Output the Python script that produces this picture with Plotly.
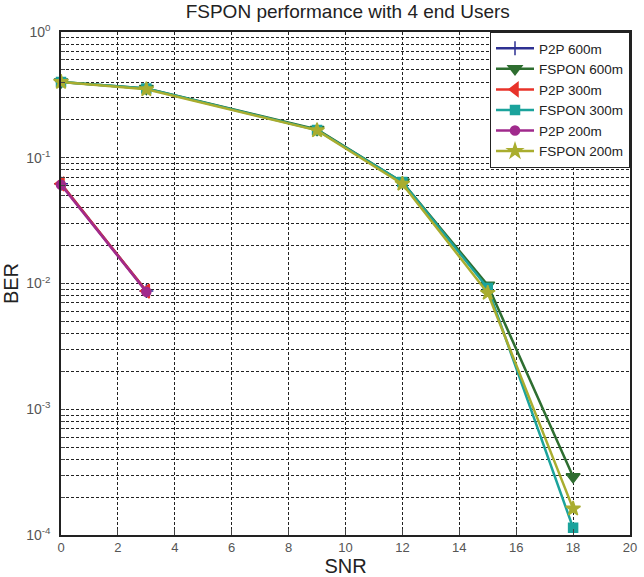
import plotly.graph_objects as go

snr_p2p = [0, 3]
snr_fspon = [0, 3, 9, 12, 15, 18]

ber_p2p_600 = [0.062, 0.0087]
ber_p2p_300 = [0.062, 0.0087]
ber_p2p_200 = [0.061, 0.0086]
ber_fspon_600 = [0.40, 0.355, 0.168, 0.064, 0.0097, 2.9e-4]
ber_fspon_300 = [0.40, 0.355, 0.166, 0.064, 0.0092, 1.14e-4]
ber_fspon_200 = [0.40, 0.35, 0.165, 0.062, 0.0084, 1.62e-4]

x_ticks = [0, 2, 4, 6, 8, 10, 12, 14, 16, 18, 20]
decade_exps = [-4, -3, -2, -1, 0]
minor_mults = [1, 2, 3, 4, 5, 6, 7, 8, 9]

y_tickvals = []
y_ticktext = []
for e in decade_exps:
    for m in minor_mults:
        v = m * 10.0 ** e
        if v > 1.0000001:
            continue
        y_tickvals.append(v)
        y_ticktext.append(f"10<sup>{e}</sup>" if m == 1 else "")

series = [
    ("P2P 600m", snr_p2p, ber_p2p_600, "#2E3192", "cross-thin", 10),
    ("FSPON 600m", snr_fspon, ber_fspon_600, "#2E6E30", "triangle-down", 12),
    ("P2P 300m", snr_p2p, ber_p2p_300, "#E8332A", "triangle-left", 12),
    ("FSPON 300m", snr_fspon, ber_fspon_300, "#1BA39C", "square", 9),
    ("P2P 200m", snr_p2p, ber_p2p_200, "#A02A8C", "circle", 9),
    ("FSPON 200m", snr_fspon, ber_fspon_200, "#A9AD2F", "star", 11),
]

fig = go.Figure()
for name, x, y, color, sym, size in series:
    fig.add_trace(go.Scatter(
        x=x, y=y, name=name, mode="lines+markers", cliponaxis=False,
        line=dict(color=color, width=2.5),
        marker=dict(symbol=sym, size=size, color=color,
                    line=dict(color=color, width=1.5)),
    ))

font = "Arial, Liberation Sans, sans-serif"
grid_dash = "3px,2px"
fig.update_layout(
    width=644, height=577,
    margin=dict(l=61, r=7, t=32, b=42),
    paper_bgcolor="white", plot_bgcolor="white",
    font=dict(family=font, color="#222"),
    title=dict(text="FSPON performance with 4 end Users", x=0.54, xanchor="center",
               y=0.992, yanchor="top", font=dict(size=19, color="#222")),
    xaxis=dict(
        range=[0, 20], tickvals=x_ticks, ticks="inside", ticklen=6,
        showgrid=True, gridcolor="#222", griddash=grid_dash, gridwidth=1,
        showline=True, linecolor="#222", linewidth=1.5, mirror=True,
        tickfont=dict(size=13, color="#555"),
        title=dict(text="SNR", font=dict(size=20, color="#222"), standoff=0),
        zeroline=False,
    ),
    yaxis=dict(
        type="log", range=[-4, 0], tickvals=y_tickvals, ticktext=y_ticktext,
        ticks="inside", ticklen=4, ticklabelstandoff=6,
        showgrid=True, gridcolor="#222", griddash=grid_dash, gridwidth=1,
        showline=True, linecolor="#222", linewidth=1.5, mirror=True,
        tickfont=dict(size=14, color="#555"),
        title=dict(text="BER", font=dict(size=20, color="#222"), standoff=2),
        zeroline=False,
    ),
    legend=dict(
        x=1.0, y=1.0, xanchor="right", yanchor="top",
        bgcolor="white", bordercolor="#222", borderwidth=1,
        font=dict(size=13.5, color="#222"),
        tracegroupgap=0, itemwidth=38,
    ),
    showlegend=True,
)

fig.write_html("out.html")
